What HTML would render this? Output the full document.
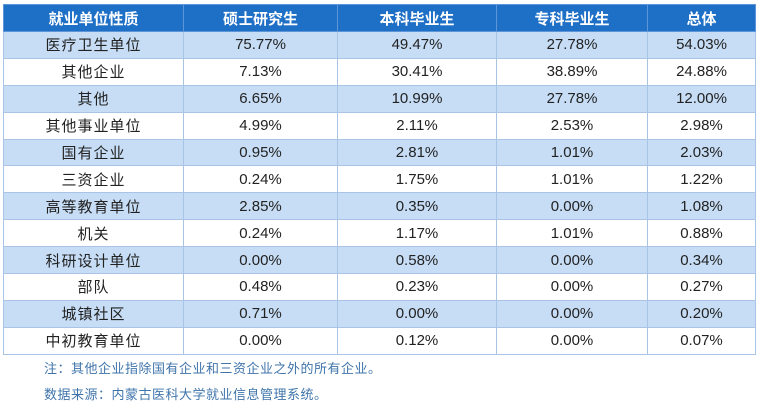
<!DOCTYPE html>
<html><head><meta charset="utf-8"><style>
body{margin:0;background:#fff;width:757px;height:411px;overflow:hidden;font-family:"Liberation Sans","Noto Sans CJK SC",sans-serif;}
table{position:absolute;left:3px;top:4px;border-collapse:collapse;table-layout:fixed;width:752px;}
td,th{border:1px solid #a9c4e4;text-align:center;padding:0;font-size:15px;color:#222;height:25.9px;}
td:first-child{letter-spacing:1px;}
th{background:#1e6fc6;color:#fff;font-weight:bold;height:26px;border-color:#5d95d6;}
tr.a td{background:#c6ddf5;}
.n{position:absolute;left:44px;font-size:13px;color:#3f74ab;letter-spacing:0.5px;}
</style></head><body>
<table>
<colgroup><col style="width:180px"><col style="width:154px"><col style="width:159px"><col style="width:151px"><col style="width:108px"></colgroup>
<tr><th>就业单位性质</th><th>硕士研究生</th><th>本科毕业生</th><th>专科毕业生</th><th>总体</th></tr>
<tr class="a"><td>医疗卫生单位</td><td>75.77%</td><td>49.47%</td><td>27.78%</td><td>54.03%</td></tr>
<tr><td>其他企业</td><td>7.13%</td><td>30.41%</td><td>38.89%</td><td>24.88%</td></tr>
<tr class="a"><td>其他</td><td>6.65%</td><td>10.99%</td><td>27.78%</td><td>12.00%</td></tr>
<tr><td>其他事业单位</td><td>4.99%</td><td>2.11%</td><td>2.53%</td><td>2.98%</td></tr>
<tr class="a"><td>国有企业</td><td>0.95%</td><td>2.81%</td><td>1.01%</td><td>2.03%</td></tr>
<tr><td>三资企业</td><td>0.24%</td><td>1.75%</td><td>1.01%</td><td>1.22%</td></tr>
<tr class="a"><td>高等教育单位</td><td>2.85%</td><td>0.35%</td><td>0.00%</td><td>1.08%</td></tr>
<tr><td>机关</td><td>0.24%</td><td>1.17%</td><td>1.01%</td><td>0.88%</td></tr>
<tr class="a"><td>科研设计单位</td><td>0.00%</td><td>0.58%</td><td>0.00%</td><td>0.34%</td></tr>
<tr><td>部队</td><td>0.48%</td><td>0.23%</td><td>0.00%</td><td>0.27%</td></tr>
<tr class="a"><td>城镇社区</td><td>0.71%</td><td>0.00%</td><td>0.00%</td><td>0.20%</td></tr>
<tr><td>中初教育单位</td><td>0.00%</td><td>0.12%</td><td>0.00%</td><td>0.07%</td></tr>
</table>
<div class="n" style="top:358px">注：其他企业指除国有企业和三资企业之外的所有企业。</div>
<div class="n" style="top:384px">数据来源：内蒙古医科大学就业信息管理系统。</div>
</body></html>
